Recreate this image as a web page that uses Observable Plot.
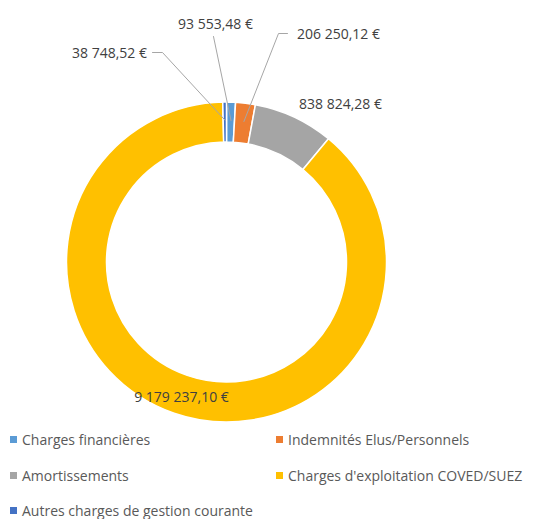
<!DOCTYPE html>
<html><head><meta charset="utf-8">
<script src="https://cdn.jsdelivr.net/npm/d3@7"></script>
<script src="https://cdn.jsdelivr.net/npm/@observablehq/plot@0.6"></script>
<style>
body{margin:0;background:#fff;font-family:"Open Sans",sans-serif;}
#chart{width:546px;}
.legend{display:grid;grid-template-columns:266px 280px;grid-auto-rows:35.5px;font-size:14px;color:#595959;}
.item{display:flex;align-items:center;padding-left:10px;white-space:nowrap;}
.sw{width:7px;height:7px;margin-right:5px;flex:none;}
</style></head><body><div id="chart"></div>
<script>
// ---- data ----
const categories = ["Charges financières","Indemnités Elus/Personnels","Amortissements","Charges d'exploitation COVED/SUEZ","Autres charges de gestion courante"];
const values = [93553.48, 206250.12, 838824.28, 9179237.10, 38748.52];
const valueLabels = ["93 553,48 €","206 250,12 €","838 824,28 €","9 179 237,10 €","38 748,52 €"];
const colors = ["#5B9BD5","#ED7D31","#A5A5A5","#FFC000","#4472C4"];

// ---- layout (pixels) ----
const W = 546, H = 422;
const cx = 226.5, cy = 262, R = 160, r0 = 120;
const labelPos = [[215,24],[338,34],[340,104],[181,397],[109,53]];
const leaderStart = [[[213,36]],[[287,33],[278,33]],null,null,[[152,52],[162,52]]];

const table = categories.map((c,i)=>({category:c, value:values[i], label:valueLabels[i]}));
const pie = d3.pie().sort(null).value(d=>d.value)(table);
const colorScale = Plot.scale({color:{domain:categories, range:colors}});

const ang = p => (p.startAngle + p.endAngle)/2;
const texts = table.map((d,i)=>({x:labelPos[i][0], y:labelPos[i][1], text:d.label}));
const leaders = [];
pie.forEach((p,i)=>{
  if(!leaderStart[i]) return;
  const a = ang(p), rr = 142;
  const pts = [...leaderStart[i], [cx + rr*Math.sin(a), cy - rr*Math.cos(a)]];
  pts.forEach(pt=>leaders.push({x:pt[0], y:pt[1], k:i}));
});

function donut(index, scales){
  const g = d3.create("svg:g");
  const arc = d3.arc().innerRadius(r0).outerRadius(R);
  g.attr("transform", `translate(${scales.x(cx)},${scales.y(cy)})`);
  g.selectAll("path").data(pie).join("path")
    .attr("d", arc)
    .attr("fill", d=>colorScale.apply(d.data.category))
    .attr("stroke", "#fff").attr("stroke-width", 1.5);
  return g.node();
}

const plot = Plot.plot({
  width: W, height: H, margin: 0,
  x: {domain:[0,W], range:[0,W], axis:null},
  y: {domain:[0,H], range:[0,H], axis:null},
  marks: [
    donut,
    Plot.line(leaders, {x:"x", y:"y", z:"k", stroke:"#A6A6A6", strokeWidth:1}),
    Plot.text(texts, {x:"x", y:"y", text:"text", fill:"#404040", fontSize:14, fontFamily:"Open Sans"})
  ]
});
document.getElementById("chart").appendChild(plot);

const legend = d3.select("#chart").append("div").attr("class","legend");
const items = legend.selectAll(".item").data(categories).join("div").attr("class","item");
items.append("span").attr("class","sw").style("background", d=>colorScale.apply(d));
items.append("span").text(d=>d);
</script></body></html>
